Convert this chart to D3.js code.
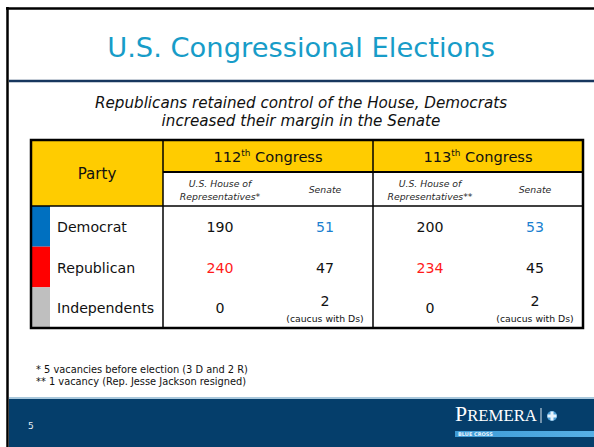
<!DOCTYPE html>
<html>
<head>
<meta charset="utf-8">
<script src="https://cdn.jsdelivr.net/npm/d3@7"></script>
<style>
  html, body { margin: 0; padding: 0; background: #fff; }
  svg { display: block; }
</style>
</head>
<body>
<div id="chart"></div>
<script>

//============================================================
// Data
//------------------------------------------------------------

var title = 'U.S. Congressional Elections';
var subtitle = ['Republicans retained control of the House, Democrats',
                'increased their margin in the Senate'];

var parties = ['Democrat', 'Republican', 'Independents'];
var partyColors = ['#0070c0', '#ff0000', '#bfbfbf'];
var highlightColors = ['#1a7fd0', '#ff1a1a', '#000'];

var congresses = ['112', '113'];
var chambers = ['U.S. House of|Representatives', 'Senate'];
var houseNotes = ['*', '**'];

var house112 = [190, 240, 0];
var senate112 = [51, 47, 2];
var house113 = [200, 234, 0];
var senate113 = [53, 45, 2];

var caucusNote = '(caucus with Ds)';

var footnotes = ['* 5 vacancies before election (3 D and 2 R)',
                 '** 1 vacancy (Rep. Jesse Jackson resigned)'];
var pageNumber = '5';

//============================================================


var width = 594,
    height = 447,
    font = '"DejaVu Sans", Verdana, sans-serif',
    table = {left: 31, right: 583, top: 140, head1: 172, head2: 206, bottom: 328},
    colWidths = [132, 114, 96, 114, 96],
    stripWidth = 19;

var svg = d3.select('#chart').append('svg')
    .attr('width', width)
    .attr('height', height)
    .style('font-family', font);

// scale all text sizes to the widths seen on the slide (sizes given in Tahoma px)
var probe = svg.append('text').style('font-size', '100px').text('Democrat');
var k = 70 / (probe.node().getComputedTextLength() * 0.16);
probe.remove();
function fs(px) { return (px * k) + 'px'; }

function fitWidth(sel, w) {
  var cur = parseFloat(sel.style('font-size'));
  var len = sel.node().getComputedTextLength();
  var size = cur * w / len;
  sel.style('font-size', size + 'px');
  return size;
}


//------------------------------------------------------------
// Slide frame

svg.append('line')
    .attr('x1', 6).attr('x2', width).attr('y1', 8.5).attr('y2', 8.5)
    .style('stroke', '#000').style('stroke-width', 2.5);
svg.append('line')
    .attr('x1', 7.5).attr('x2', 7.5).attr('y1', 7).attr('y2', height)
    .style('stroke', '#000').style('stroke-width', 2.5);

var titleText = svg.append('text')
    .attr('x', 301).attr('y', 57)
    .attr('text-anchor', 'middle')
    .style('font-size', '30px')
    .style('fill', '#179cc8')
    .text(title);
fitWidth(titleText, 388);

svg.append('line')
    .attr('x1', 9).attr('x2', width).attr('y1', 81).attr('y2', 81)
    .style('stroke', '#17375e').style('stroke-width', 2.5);

var sub = svg.selectAll('text.subtitle')
    .data(subtitle)
  .enter().append('text')
    .attr('class', 'subtitle')
    .attr('x', 301)
    .attr('y', function(d, i) { return 108 + i * 18 })
    .attr('text-anchor', 'middle')
    .style('font-size', fs(14.5))
    .style('font-style', 'italic')
    .style('fill', '#111')
    .text(function(d) { return d });
var subSize = fitWidth(d3.select(sub.nodes()[0]), 412);
sub.style('font-size', subSize + 'px');


//------------------------------------------------------------
// Table scales

var colEdges = [table.left].concat(Array.from(d3.cumsum(colWidths), function(d) { return table.left + d }));
var colKeys = ['party'].concat(d3.cross(congresses, [0, 1]).map(function(d) { return d[0] + '-' + d[1] }));

var x0 = d3.scaleOrdinal().domain(colKeys).range(colEdges.slice(0, -1));
var x1 = d3.scaleOrdinal().domain(colKeys).range(colEdges.slice(1));
function xMid(key) { return (x0(key) + x1(key)) / 2 }

var y = d3.scaleBand()
    .domain(parties)
    .range([table.head2, table.bottom]);

var values = {
  '112-0': house112, '112-1': senate112,
  '113-0': house113, '113-1': senate113
};


//------------------------------------------------------------
// Header

var g = svg.append('g').attr('class', 'table');

g.append('rect')
    .attr('x', table.left).attr('y', table.top)
    .attr('width', x1('party') - table.left)
    .attr('height', table.head2 - table.top)
    .style('fill', '#ffcc00');

g.append('rect')
    .attr('x', x0('112-0')).attr('y', table.top)
    .attr('width', table.right - x0('112-0'))
    .attr('height', table.head1 - table.top)
    .style('fill', '#ffcc00');

g.append('text')
    .attr('x', xMid('party')).attr('y', (table.top + table.head2) / 2 + 6)
    .attr('text-anchor', 'middle')
    .style('font-size', fs(17))
    .style('fill', '#111')
    .text('Party');

var congressHead = g.selectAll('text.congress')
    .data(congresses)
  .enter().append('text')
    .attr('class', 'congress')
    .attr('x', function(d) { return x0(d + '-0') + (x1(d + '-1') - x0(d + '-0')) / 2 })
    .attr('y', (table.top + table.head1) / 2 + 6)
    .attr('text-anchor', 'middle')
    .style('font-size', fs(16.5))
    .style('fill', '#111');
congressHead.append('tspan').text(function(d) { return d });
congressHead.append('tspan')
    .attr('dy', -6)
    .style('font-size', fs(10))
    .text('th');
congressHead.append('tspan')
    .attr('dy', 6)
    .text(' Congress');

var subKeys = d3.cross(congresses, [0, 1]);
var subHead = g.selectAll('text.chamber')
    .data(subKeys)
  .enter().append('text')
    .attr('class', 'chamber')
    .attr('x', function(d) { return xMid(d[0] + '-' + d[1]) })
    .attr('text-anchor', 'middle')
    .style('font-size', fs(10.5))
    .style('font-style', 'italic')
    .style('fill', '#2a2a2a');
subHead.each(function(d, i) {
  var lines = chambers[d[1]].split('|'),
      t = d3.select(this),
      midY = (table.head1 + table.head2) / 2;
  if (d[1] === 0) lines[1] = lines[1] + houseNotes[congresses.indexOf(d[0])];
  t.selectAll('tspan')
      .data(lines)
    .enter().append('tspan')
      .attr('x', xMid(d[0] + '-' + d[1]))
      .attr('y', function(l, j) { return midY + 4 + (j - (lines.length - 1) / 2) * 13 })
      .text(function(l) { return l });
});


//------------------------------------------------------------
// Body

g.selectAll('rect.strip')
    .data(parties)
  .enter().append('rect')
    .attr('class', 'strip')
    .attr('x', table.left)
    .attr('y', function(d) { return y(d) })
    .attr('width', stripWidth)
    .attr('height', y.bandwidth())
    .style('fill', function(d, i) { return partyColors[i] });

g.selectAll('text.party')
    .data(parties)
  .enter().append('text')
    .attr('class', 'party')
    .attr('x', table.left + stripWidth + 7)
    .attr('y', function(d) { return y(d) + y.bandwidth() / 2 + 5.5 })
    .style('font-size', fs(16))
    .style('fill', '#111')
    .text(function(d) { return d });

var cells = [];
colKeys.slice(1).forEach(function(key) {
  var vals = values[key],
      top = d3.maxIndex(vals);
  parties.forEach(function(p, i) {
    cells.push({key: key, party: p, i: i, value: vals[i], winner: i === top,
                note: p === 'Independents' && key.slice(-1) === '1'});
  });
});

var cell = g.selectAll('g.cell')
    .data(cells)
  .enter().append('g')
    .attr('class', 'cell')
    .attr('transform', function(d) {
      return 'translate(' + xMid(d.key) + ',' + (y(d.party) + y.bandwidth() / 2) + ')';
    });

cell.append('text')
    .attr('y', function(d) { return d.note ? -2 : 5.5 })
    .attr('text-anchor', 'middle')
    .style('font-size', fs(16))
    .style('fill', function(d) { return d.winner ? highlightColors[d.i] : '#111' })
    .text(function(d) { return d.value });

cell.filter(function(d) { return d.note })
  .append('text')
    .attr('y', 14)
    .attr('text-anchor', 'middle')
    .style('font-size', fs(10.5))
    .style('fill', '#111')
    .text(caucusNote);


//------------------------------------------------------------
// Rules

function rule(xa, ya, xb, yb, w) {
  g.append('line')
      .attr('x1', xa).attr('y1', ya).attr('x2', xb).attr('y2', yb)
      .style('stroke', '#000').style('stroke-width', w);
}
rule(x0('112-0'), table.head1, table.right, table.head1, 2);
rule(table.left, table.head2, table.right, table.head2, 1.5);
rule(x0('112-0'), table.top, x0('112-0'), table.bottom, 1.5);
rule(x0('113-0'), table.top, x0('113-0'), table.bottom, 1.5);

g.append('rect')
    .attr('x', table.left).attr('y', table.top)
    .attr('width', table.right - table.left)
    .attr('height', table.bottom - table.top)
    .style('fill', 'none')
    .style('stroke', '#000')
    .style('stroke-width', 2.5);


//------------------------------------------------------------
// Footnotes and footer

var notes = svg.selectAll('text.footnote')
    .data(footnotes)
  .enter().append('text')
    .attr('class', 'footnote')
    .attr('x', 36)
    .attr('y', function(d, i) { return 373 + i * 12 })
    .style('font-size', fs(10))
    .style('fill', '#111')
    .text(function(d) { return d });
var noteSize = fitWidth(d3.select(notes.nodes()[0]), 212);
notes.style('font-size', noteSize + 'px');

svg.append('rect')
    .attr('x', 9).attr('y', 398)
    .attr('width', width - 9).attr('height', height - 398)
    .style('fill', '#053e6b');
svg.append('rect')
    .attr('x', 9).attr('y', 397)
    .attr('width', width - 9).attr('height', 2)
    .style('fill', '#a9c8dc');

svg.append('text')
    .attr('x', 28).attr('y', 429)
    .style('font-size', '9px')
    .style('fill', '#e8eef4')
    .text(pageNumber);

var logo = svg.append('g').attr('class', 'logo');
var brand = logo.append('text')
    .attr('x', 455).attr('y', 421)
    .style('font-family', '"Liberation Serif", "DejaVu Serif", serif')
    .style('font-size', '13px')
    .style('fill', '#fff');
brand.append('tspan').style('font-size', '1.3em').text('P');
brand.append('tspan').style('font-size', '1em').text('REMERA');
fitWidth(brand, 82);

logo.append('line')
    .attr('x1', 541).attr('x2', 541).attr('y1', 408).attr('y2', 423)
    .style('stroke', '#dfe8f0').style('stroke-width', 1);
logo.append('circle')
    .attr('cx', 552).attr('cy', 416).attr('r', 5)
    .style('fill', '#4c9fd6');
logo.append('path')
    .attr('d', 'M550.5,411.5h3v3h3v3h-3v3h-3v-3h-3v-3h3z')
    .style('fill', '#e6f2fb');

var grad = svg.append('defs').append('linearGradient')
    .attr('id', 'bluebar');
grad.append('stop').attr('offset', '0%').attr('stop-color', '#3d9ad6');
grad.append('stop').attr('offset', '100%').attr('stop-color', '#57b0e6');
logo.append('rect')
    .attr('x', 455).attr('y', 431)
    .attr('width', width - 455).attr('height', 6)
    .style('fill', 'url(#bluebar)');
logo.append('text')
    .attr('x', 458).attr('y', 436)
    .style('font-size', '5px')
    .style('font-weight', 'bold')
    .style('fill', '#e8f4fc')
    .text('BLUE CROSS');

</script>
</body>
</html>
